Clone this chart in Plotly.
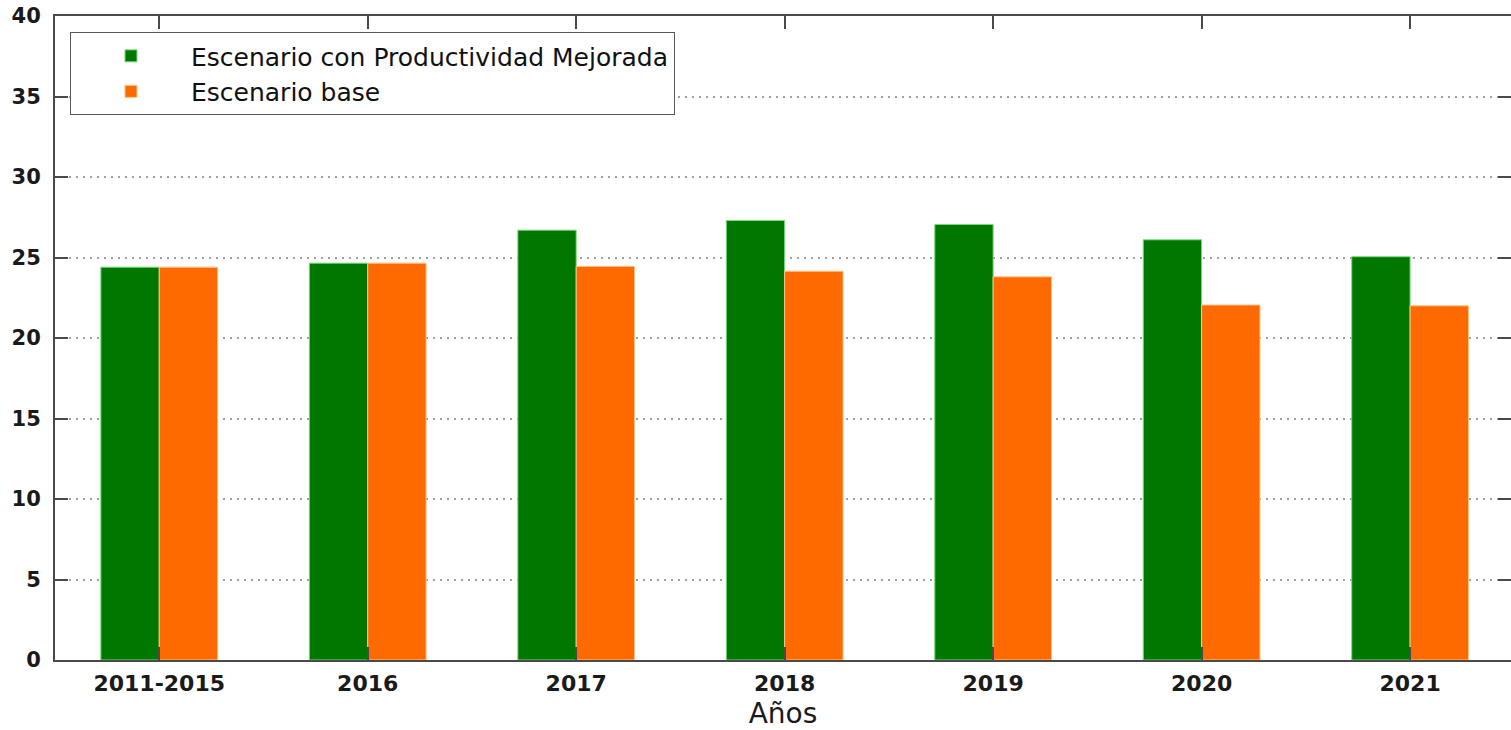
import plotly.graph_objects as go

categories = ["2011-2015", "2016", "2017", "2018", "2019", "2020", "2021"]
mejorada = [24.4, 24.65, 26.7, 27.3, 27.05, 26.1, 25.05]
base = [24.4, 24.65, 24.45, 24.15, 23.8, 22.05, 22.0]

series_names = ["Escenario con Productividad Mejorada", "Escenario base"]
y_ticks = [0, 5, 10, 15, 20, 25, 30, 35, 40]

W, H = 1511, 730
L, R, T, B = 55, 0, 16, 70
axis_col = "#4a4a4a"

fig = go.Figure()
fig.add_trace(go.Bar(
    x=list(range(len(categories))), y=mejorada, name=series_names[0],
    marker=dict(color="#007800", line=dict(color="#7fd97f", width=1)),
))
fig.add_trace(go.Bar(
    x=list(range(len(categories))), y=base, name=series_names[1],
    marker=dict(color="#ff6a00", line=dict(color="#ffc48a", width=1)),
))

fig.update_layout(
    width=W, height=H,
    margin=dict(l=L, r=R, t=T, b=B, pad=0, autoexpand=False),
    paper_bgcolor="white", plot_bgcolor="white",
    barmode="group", bargap=0.44, bargroupgap=0.0,
    font=dict(family="DejaVu Sans", color="#1a1a1a"),
    legend=dict(
        x=0.0103, y=0.975, xanchor="left", yanchor="top",
        bgcolor="white", bordercolor="#5a5a5a", borderwidth=1,
        font=dict(family="DejaVu Sans", size=25, color="#111111"),
        itemwidth=110, tracegroupgap=0,
    ),
)

fig.update_xaxes(
    tickmode="array", tickvals=list(range(len(categories))), ticktext=categories,
    range=[-0.5, 6.484], automargin=False,
    showline=True, linecolor=axis_col, linewidth=2, mirror="ticks",
    ticks="inside", ticklen=13, tickwidth=1.5, tickcolor=axis_col,
    showgrid=False, zeroline=False, ticklabelstandoff=3,
    tickfont=dict(family="DejaVu Sans", size=22, color="#1a1a1a", weight="bold"),
    title=dict(text="Años", font=dict(family="DejaVu Sans", size=28, color="#1a1a1a"), standoff=8),
)
fig.update_yaxes(
    range=[0, 40], tickmode="array", tickvals=y_ticks, automargin=False,
    showline=True, linecolor=axis_col, linewidth=2, mirror="ticks",
    ticks="inside", ticklen=13, tickwidth=1.5, tickcolor=axis_col,
    showgrid=True, gridcolor="#a0a0a0", griddash="2px,5px", gridwidth=1.5,
    zeroline=False, ticklabelstandoff=8,
    tickfont=dict(family="DejaVu Sans", size=21, color="#1a1a1a", weight="bold"),
)

fig.write_html(
    "out.html",
    config={"displayModeBar": False},
    post_script="document.body.style.margin='0';document.body.style.overflow='hidden';",
)
